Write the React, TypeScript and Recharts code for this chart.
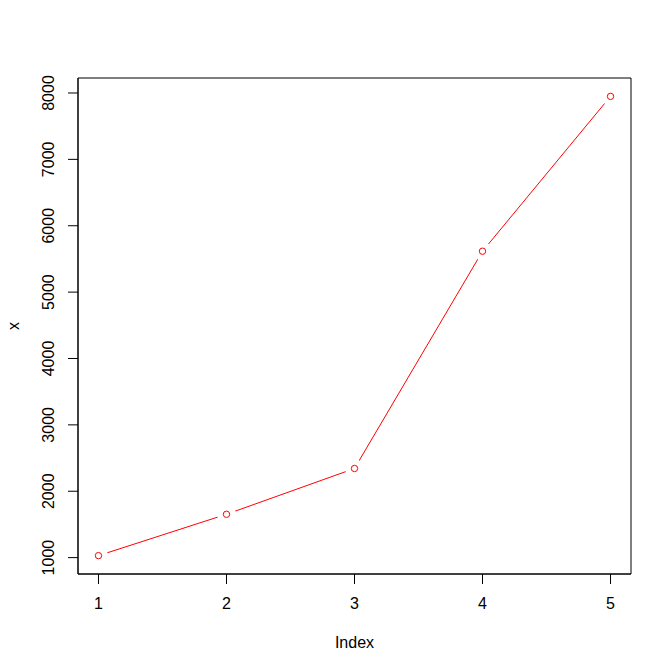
import React from "react";
import { LineChart, Line, XAxis, YAxis, ReferenceArea } from "recharts";

// values (R base plot, type = "b")
const indexes = [1, 2, 3, 4, 5];
const values = [1030, 1653, 2343, 5616, 7949];
const yTicks = [1000, 2000, 3000, 4000, 5000, 6000, 7000, 8000];
const xTicks = [1, 2, 3, 4, 5];

const data = indexes.map((i, k) => ({ index: i, x: values[k] }));

// R pads the range by 4% on each side
const pad = (lo: number, hi: number): [number, number] => {
  const d = (hi - lo) * 0.04;
  return [lo - d, hi + d];
};
const xDomain = pad(Math.min(...indexes), Math.max(...indexes));
const yDomain = pad(Math.min(...values), Math.max(...values));

const FONT = "'Liberation Sans', Arial, sans-serif";

const XTick = (props: any) => {
  const { x, y, payload } = props;
  return (
    <text x={x} y={y} textAnchor="middle" dominantBaseline="central" fontSize={16} fontFamily={FONT} fill="#000">
      {payload.value}
    </text>
  );
};

const YTick = (props: any) => {
  const { x, y, payload } = props;
  return (
    <text
      x={x}
      y={y}
      transform={`rotate(-90, ${x}, ${y})`}
      textAnchor="middle"
      dominantBaseline="central"
      fontSize={16}
      fontFamily={FONT}
      fill="#000"
    >
      {payload.value}
    </text>
  );
};

// open circle, with white halo so the line stops short of the point like type="b"
const Dot = (props: any) => {
  const { cx, cy, index } = props;
  return (
    <g key={index}>
      <circle cx={cx} cy={cy} r={9.5} fill="#fff" stroke="none" />
      <circle cx={cx} cy={cy} r={3.2} fill="none" stroke="#ff0000" strokeWidth={1} />
    </g>
  );
};

export default function App() {
  return (
    <div style={{ position: "absolute", left: 0, top: 0, background: "#fff" }}>
      <LineChart width={672} height={672} data={data} margin={{ top: 78, right: 41, left: 0, bottom: 0 }}>
        <XAxis
          dataKey="index"
          type="number"
          domain={xDomain}
          ticks={xTicks}
          allowDataOverflow
          height={98}
          tickSize={10}
          tickMargin={19}
          tick={<XTick />}
          axisLine={{ stroke: "#000" }}
          tickLine={{ stroke: "#000" }}
          label={{
            content: (p: any) => {
              const vb = p.viewBox;
              return (
                <text x={vb.x + vb.width / 2} y={vb.y + 68.4} textAnchor="middle" dominantBaseline="central" fontSize={16} fontFamily={FONT} fill="#000">
                  Index
                </text>
              );
            },
          }}
        />
        <YAxis
          type="number"
          domain={yDomain}
          ticks={yTicks}
          allowDataOverflow
          width={78}
          tickSize={10}
          tickMargin={19}
          tick={<YTick />}
          axisLine={{ stroke: "#000" }}
          tickLine={{ stroke: "#000" }}
          label={{
            content: (p: any) => {
              const vb = p.viewBox;
              const cx = vb.x + 13.3;
              const cy = vb.y + vb.height / 2;
              return (
                <text x={cx} y={cy} transform={`rotate(-90, ${cx}, ${cy})`} textAnchor="middle" dominantBaseline="central" fontSize={16} fontFamily={FONT} fill="#000">
                  x
                </text>
              );
            },
          }}
        />
        {/* box around the plot region */}
        <ReferenceArea
          x1={xDomain[0]}
          x2={xDomain[1]}
          y1={yDomain[0]}
          y2={yDomain[1]}
          fill="none"
          fillOpacity={0}
          stroke="#000"
          strokeWidth={1}
          ifOverflow="visible"
        />
        <Line
          type="linear"
          dataKey="x"
          stroke="#ff0000"
          strokeWidth={1}
          dot={<Dot />}
          activeDot={false}
          isAnimationActive={false}
        />
      </LineChart>
    </div>
  );
}
